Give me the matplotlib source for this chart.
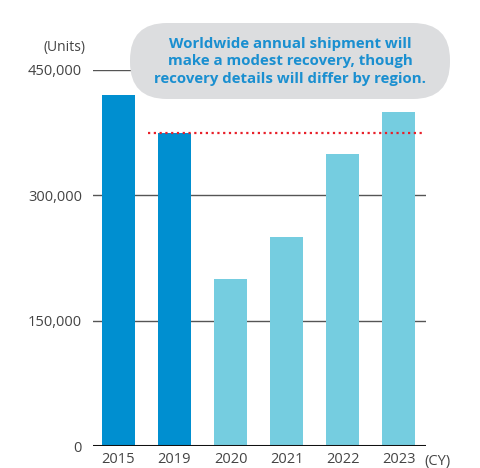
import matplotlib.pyplot as plt
from matplotlib.patches import FancyBboxPatch
from matplotlib.transforms import IdentityTransform

years = ['2015', '2019', '2020', '2021', '2022', '2023']
units = [420000, 375000, 200000, 250000, 350000, 400000]
actual = [True, True, False, False, False, False]
ref_level = 375000
yticks = [0, 150000, 300000, 450000]
note = ("Worldwide annual shipment will\n"
        "make a modest recovery, though\n"
        "recovery details will differ by region.")

plt.rcParams['font.family'] = ['Open Sans', 'DejaVu Sans']

fig = plt.figure(figsize=(4.8, 4.68), dpi=100)
W, H = 480, 468
ax = fig.add_axes([93 / W, 22 / H, 333 / W, (446 - 70) / H])

cols = ['#008fd0' if a else '#75cde0' for a in actual]
x = list(range(len(years)))
ax.bar(x, units, width=0.59, color=cols, zorder=2)

for v in yticks[1:]:
    ax.axhline(v, color='#555555', lw=1.0, zorder=1)
ax.axhline(0, color='#111111', lw=2.2, zorder=3)

ax.hlines(ref_level, 0.53, 5.43, colors='#e8202a', linestyles=(0, (1, 1.6)), lw=1.6, zorder=4)

ax.set_xlim(-0.455, 5.49)
ax.set_ylim(0, 450000)
ax.set_xticks(x)
ax.set_xticklabels(years)
ax.set_yticks(yticks)
ax.set_yticklabels(['{:,}'.format(v) for v in yticks])
ax.tick_params(length=0, labelsize=10.5, labelcolor='#444444', pad=8)
ax.tick_params(axis='x', pad=4)
for s in ax.spines.values():
    s.set_visible(False)

fig.text(86 / W, 1 - 47 / H, '(Units)', ha='right', va='center', fontsize=10, color='#444444')
fig.text(424 / W, 1 - 461 / H, '(CY)', ha='left', va='center', fontsize=10.5, color='#444444')

box = FancyBboxPatch((130, H - 99), 320, 76,
                     boxstyle='round,pad=0,rounding_size=37',
                     transform=IdentityTransform(), fc='#dcdddf', ec='none', zorder=5)
fig.add_artist(box)
fig.text(290 / W, 1 - 61.5 / H, note, ha='center', va='center', fontsize=10.8,
         fontweight='bold', color='#1a8fd0', linespacing=1.28, zorder=6)

fig.savefig('out.png', dpi=100)
